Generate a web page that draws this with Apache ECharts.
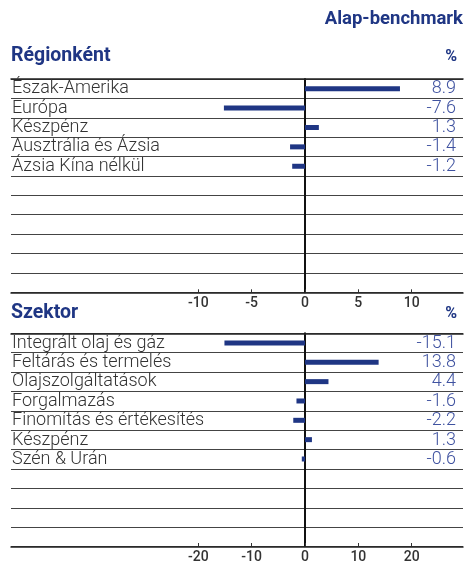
<!DOCTYPE html>
<html><head><meta charset="utf-8">
<script src="https://cdn.jsdelivr.net/npm/echarts@6/dist/echarts.min.js"></script>
<style>html,body{margin:0;padding:0;background:#fff}#c{width:468px;height:564px}</style>
</head><body><div id="c"></div>
<script>
const ROWS = 11;
const regionCats = ['Észak-Amerika','Európa','Készpénz','Ausztrália és Ázsia','Ázsia Kína nélkül'];
const regionVals = [8.9,-7.6,1.3,-1.4,-1.2];
const regionTicks = {min:-10,max:10,interval:5};
const sectorCats = ['Integrált olaj és gáz','Feltárás és termelés','Olajszolgáltatások','Forgalmazás','Finomítás és értékesítés','Készpénz','Szén & Urán'];
const sectorVals = [-15.1,13.8,4.4,-1.6,-2.2,1.3,-0.6];
const sectorTicks = {min:-20,max:20,interval:10};
const titleTop = 'Alap-benchmark';
const titleRegion = 'Régionként';
const titleSector = 'Szektor';
const pct = '%';

const FONT = 'Roboto';
const BLUE = '#1f3684';
const LBLUE = '#3f52a0';
const idx = Array.from({length:ROWS},(_,i)=>String(i));

const panels = [
  {top:79, h:213.3, cats:regionCats, vals:regionVals, ticks:regionTicks},
  {top:333.3, h:213.4, cats:sectorCats, vals:sectorVals, ticks:sectorTicks}
];
const grid=[], xAxis=[], yAxis=[], series=[];
panels.forEach((p,k)=>{
  const gFull = grid.length;
  grid.push({left:11, width:452, top:p.top, height:p.h});
  const gBar = grid.length;
  grid.push({left:198.3, width:213.4, top:p.top, height:p.h});
  xAxis.push({gridIndex:gFull, type:'value', min:0, max:1, position:'bottom',
    axisLine:{show:true, lineStyle:{color:'#222', width:1.5}}, axisTick:{show:false}, axisLabel:{show:false}, splitLine:{show:false}});
  xAxis.push({gridIndex:gFull, type:'value', min:0, max:1, position:'top',
    axisLine:{show:true, lineStyle:{color:'#222', width:1.5}}, axisTick:{show:false}, axisLabel:{show:false}, splitLine:{show:false}});
  const xb = xAxis.length;
  xAxis.push({gridIndex:gBar, type:'value', min:p.ticks.min, max:p.ticks.max, interval:p.ticks.interval, position:'bottom',
    axisLine:{show:false}, axisTick:{show:true, inside:true, length:3, lineStyle:{color:'#333'}},
    axisLabel:{margin:4, fontFamily:FONT, fontSize:14, fontWeight:500, color:'#333'}, splitLine:{show:false}});
  yAxis.push({gridIndex:gFull, type:'category', inverse:true, data:idx, position:'left',
    axisLine:{show:false}, axisTick:{show:false},
    splitLine:{show:true, interval:0, lineStyle:{color:'#444', width:1}},
    axisLabel:{inside:true, interval:0, margin:1, fontFamily:FONT, fontWeight:300, fontSize:18, color:'#333', padding:[7,0,0,0],
      formatter:(v,i)=>p.cats[i]||''}});
  yAxis.push({gridIndex:gFull, type:'category', inverse:true, data:idx, position:'right',
    axisLine:{show:false}, axisTick:{show:false}, splitLine:{show:false},
    axisLabel:{inside:true, interval:0, margin:7, fontFamily:FONT, fontWeight:300, fontSize:18, color:LBLUE, padding:[7,0,0,0],
      formatter:(v,i)=>(p.vals[i]===undefined?'':p.vals[i].toFixed(1))}});
  const yb = yAxis.length;
  yAxis.push({gridIndex:gBar, type:'category', inverse:true, data:idx,
    axisLine:{show:true, onZero:true, lineStyle:{color:'#111', width:2}}, axisTick:{show:false}, axisLabel:{show:false}, splitLine:{show:false}});
  series.push({type:'bar', xAxisIndex:xb, yAxisIndex:yb, barWidth:5, silent:true,
    itemStyle:{color:BLUE}, data:idx.map((_,i)=>p.vals[i]===undefined?'-':p.vals[i])});
});

const txt = (t,opt,size)=>Object.assign({type:'text', style:{text:t, fontFamily:FONT, fontWeight:'bold', fill:BLUE, fontSize:size}}, opt);
const graphic = [
  txt(titleTop,{right:5, top:10}, 18.5),
  txt(titleRegion,{left:11, top:46}, 19.5),
  txt(pct,{right:11, top:49}, 16),
  txt(titleSector,{left:11, top:303}, 19.5),
  txt(pct,{right:11, top:306}, 16)
];

const chart = echarts.init(document.getElementById('c'), null, {renderer:'canvas'});
chart.setOption({animation:false, grid, xAxis, yAxis, series, graphic});
</script></body></html>
